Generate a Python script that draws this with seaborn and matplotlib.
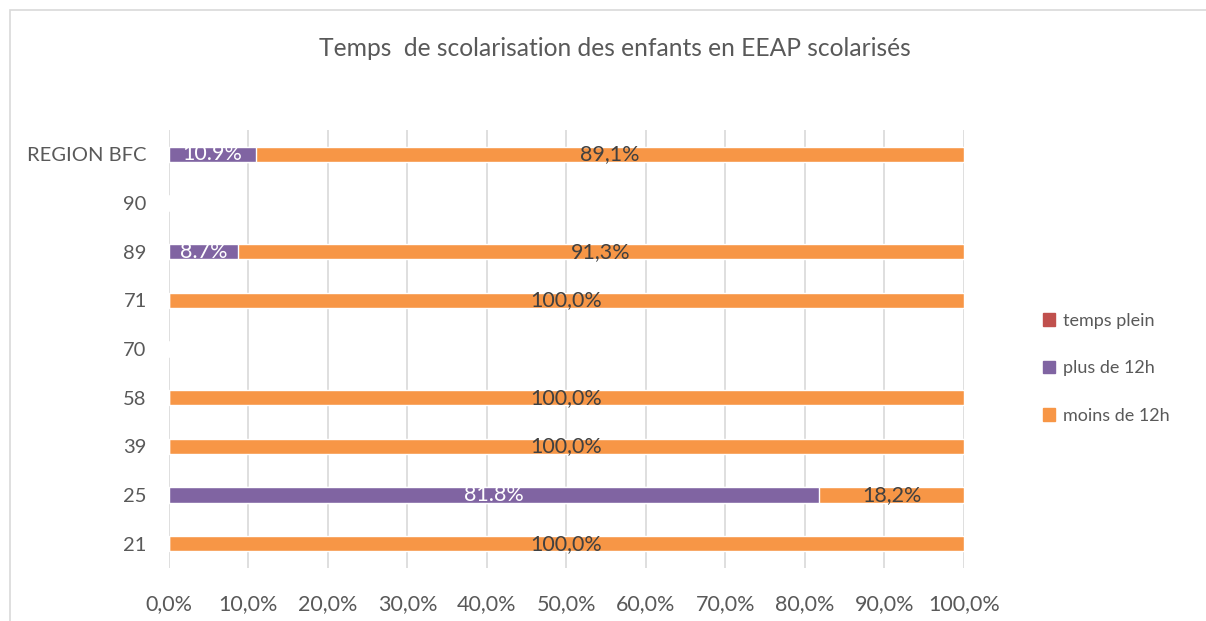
import matplotlib
matplotlib.use('Agg')
import matplotlib.pyplot as plt
from matplotlib.patches import Rectangle, Patch
from matplotlib.ticker import FuncFormatter
import seaborn as sns
import pandas as pd

# data (top to bottom as drawn in the reference)
categories = ["REGION BFC", "90", "89", "71", "70", "58", "39", "25", "21"]
moins_12h = [89.1, 0, 91.3, 100, 0, 100, 100, 18.2, 100]
plus_12h = [10.9, 0, 8.7, 0, 0, 0, 0, 81.8, 0]
temps_plein = [0, 0, 0, 0, 0, 0, 0, 0, 0]

c_orange = "#F79646"
c_purple = "#8064A2"
c_red = "#C0504D"
txt = "#595959"

sns.set_style("white")
plt.rcParams['font.family'] = ['Lato', 'DejaVu Sans']

df = pd.DataFrame({"cat": categories, "moins": moins_12h, "plus": plus_12h, "plein": temps_plein})
df["total"] = df["plus"] + df["moins"] + df["plein"]

fig = plt.figure(figsize=(12.06, 6.21), dpi=100)
ax = fig.add_axes([0.1401, 0.0853, 0.6592, 0.7054])

# stacked: draw total in orange, then purple on top of it
sns.barplot(data=df, x="total", y="cat", color=c_orange, width=0.31, saturation=1, ax=ax)
sns.barplot(data=df, x="plus", y="cat", color=c_purple, width=0.31, saturation=1, ax=ax)

# data labels
for i, row in df.iterrows():
    if row["plus"] > 0:
        ax.text(row["plus"] / 2, i, f"{row['plus']:.1f}%", color="white",
                ha="center", va="center", fontsize=15.5)
    if row["moins"] > 0:
        ax.text(row["plus"] + row["moins"] / 2, i, f"{row['moins']:.1f}%".replace(".", ","),
                color="#404040", ha="center", va="center", fontsize=15.5)

ax.set_xlim(0, 100)
ax.set_ylim(len(categories) - 0.5, -0.5)
ax.set_xticks(range(0, 101, 10))
ax.xaxis.set_major_formatter(FuncFormatter(lambda v, p: f"{v:.1f}%".replace(".", ",")))
ax.grid(True, axis="x", color="#D9D9D9", linewidth=1.2)
ax.set_axisbelow(True)
for s in ax.spines.values():
    s.set_visible(False)
ax.set_xlabel("")
ax.set_ylabel("")
ax.tick_params(axis="x", colors=txt, labelsize=15.5, length=0, pad=19)
ax.tick_params(axis="y", colors=txt, labelsize=14.5, length=0, pad=16)

fig.text(0.51, 0.922, "Temps  de scolarisation des enfants en EEAP scolarisés",
         ha="center", va="center", fontsize=17.7, color=txt)

handles = [Patch(color=c_red, label="temps plein"),
           Patch(color=c_purple, label="plus de 12h"),
           Patch(color=c_orange, label="moins de 12h")]
fig.legend(handles=handles, loc="center left", bbox_to_anchor=(0.851, 0.407),
           frameon=False, fontsize=13, labelcolor=txt, handlelength=0.7,
           handleheight=0.7, handletextpad=0.45, labelspacing=1.75)

# chart area border
fig.patches.append(Rectangle((10 / 1206, -0.1), 1.2, 1 - 10 / 621 + 0.1,
                             transform=fig.transFigure, fill=False,
                             edgecolor="#D9D9D9", linewidth=1.2))

fig.savefig("out.png", dpi=100, facecolor="white")
